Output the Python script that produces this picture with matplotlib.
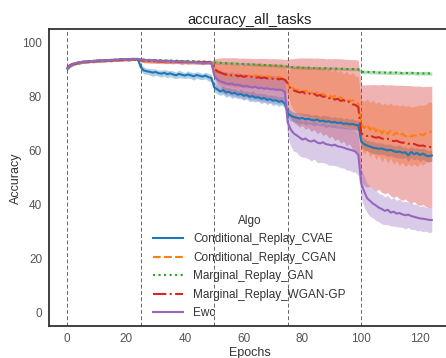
import numpy as np
import matplotlib
matplotlib.use("Agg")
import matplotlib.pyplot as plt

plt.rcParams['font.family'] = ['Liberation Sans', 'DejaVu Sans']

epochs = list(range(125))
task_starts = [0, 25, 50, 75, 100]
labels = ["Conditional_Replay_CVAE", "Conditional_Replay_CGAN", "Marginal_Replay_GAN",
          "Marginal_Replay_WGAN-GP", "Ewc"]

seg1_base = [90.5, 91.5, 92.0, 92.4, 92.7, 92.9, 93.0, 93.1, 93.2, 93.2, 93.3, 93.4, 93.4,
             93.5, 93.6, 93.6, 93.7, 93.7, 93.8, 93.8, 93.9, 93.9, 94.0, 94.0, 94.0]

cvae = seg1_base + [
    91.0, 89.8, 89.5, 89.3, 89.0, 89.2, 88.8, 88.6, 88.9, 88.4, 88.7, 88.3, 88.0, 88.5, 88.2,
    87.9, 88.3, 88.0, 87.6, 88.1, 87.8, 87.5, 87.9, 87.3, 87.0,
    83.5, 82.8, 82.0, 82.5, 81.6, 81.9, 81.2, 81.5, 80.8, 81.1, 80.4, 80.7, 80.0, 80.3, 79.7,
    79.9, 79.3, 79.6, 78.9, 79.2, 78.6, 78.8, 78.2, 78.5, 77.5,
    74.0, 73.0, 72.6, 72.3, 72.0, 72.2, 71.7, 71.9, 71.5, 71.3, 71.6, 71.0, 71.2, 70.8, 71.0,
    70.5, 70.7, 70.3, 70.5, 70.0, 70.2, 69.8, 70.0, 69.6, 69.5,
    63.5, 62.5, 62.0, 61.6, 61.2, 61.0, 60.8, 60.9, 60.5, 60.2, 60.4, 59.9, 59.6, 59.8, 59.3,
    59.5, 58.4, 59.6, 58.8, 59.2, 58.5, 59.0, 58.3, 58.0, 58.3]
cvae_hw = [
    0.8, 0.6, 0.5, 0.5, 0.6, 0.5, 0.5, 0.6, 0.5, 0.5, 0.6, 0.5, 0.5, 0.5, 0.6, 0.5, 0.5, 0.6, 0.5,
    0.5, 0.5, 0.6, 0.5, 0.5, 0.5,
    1.2, 1.3, 1.1, 1.2, 1.4, 1.2, 1.1, 1.3, 1.2, 1.4, 1.1, 1.3, 1.2, 1.4, 1.2, 1.1, 1.3, 1.2, 1.4,
    1.2, 1.3, 1.1, 1.2, 1.4, 1.3,
    1.5, 1.7, 1.4, 1.6, 1.8, 1.5, 1.7, 1.6, 1.4, 1.8, 1.6, 1.5, 1.7, 1.9, 1.6, 1.5, 1.8, 1.6, 1.7,
    1.5, 1.8, 1.6, 1.7, 1.5, 1.6,
    1.8, 2.0, 1.7, 1.9, 2.1, 1.8, 2.0, 1.9, 1.7, 2.1, 1.9, 1.8, 2.0, 2.2, 1.9, 1.8, 2.1, 1.9, 2.0,
    1.8, 2.1, 1.9, 2.0, 1.8, 1.9,
    2.0, 2.2, 1.9, 2.1, 2.3, 2.0, 2.2, 2.1, 1.9, 2.3, 2.1, 2.0, 2.2, 2.4, 2.1, 2.0, 2.3, 2.1, 2.2,
    2.0, 2.3, 2.1, 2.2, 2.0, 2.1]

cgan = [90.8, 91.7, 92.1, 92.5, 92.6, 93.0, 92.9, 93.2, 93.1, 93.3, 93.2, 93.5, 93.3, 93.6, 93.5,
        93.7, 93.6, 93.8, 93.7, 93.9, 93.8, 94.0, 93.9, 94.1, 94.0,
        93.5, 93.3, 93.2, 93.1, 93.0, 93.2, 93.1, 92.9, 93.0, 93.1, 92.9, 92.8, 93.0, 92.9, 92.8,
        92.9, 92.7, 92.8, 92.9, 92.7, 92.8, 92.6, 92.7, 92.8, 92.6,
        90.0, 89.2, 88.6, 88.3, 88.5, 87.9, 88.2, 87.7, 88.0, 87.5, 87.8, 87.4, 87.9, 87.3, 88.0,
        87.6, 87.8, 87.2, 87.6, 87.4, 87.7, 87.1, 87.5, 86.8, 86.7,
        85.0, 83.8, 83.0, 82.5, 82.8, 81.9, 82.3, 81.5, 81.8, 81.0, 81.6, 80.7, 81.2, 80.3, 80.8,
        79.8, 80.4, 79.5, 79.9, 78.8, 79.3, 78.4, 78.8, 77.9, 77.5,
        70.0, 68.5, 69.8, 67.8, 69.2, 67.2, 68.4, 66.5, 67.8, 66.2, 67.5, 65.9, 66.8, 65.6, 66.4,
        65.4, 66.0, 65.3, 65.8, 65.5, 66.2, 65.8, 66.6, 67.0, 67.2]
cgan_hw = [
    0.7, 0.6, 0.5, 0.5, 0.6, 0.5, 0.6, 0.5, 0.5, 0.6, 0.5, 0.5, 0.6, 0.5, 0.5, 0.6, 0.5, 0.5, 0.6,
    0.5, 0.5, 0.6, 0.5, 0.5, 0.5,
    0.6, 0.7, 0.6, 0.7, 0.6, 0.8, 0.7, 0.6, 0.7, 0.8, 0.6, 0.7, 0.6, 0.7, 0.8, 0.6, 0.7, 0.6, 0.7,
    0.6, 0.7, 0.8, 0.6, 0.7, 0.6,
    2.5, 3.2, 3.6, 3.9, 4.1, 3.8, 4.2, 4.0, 4.3, 3.9, 4.4, 4.1, 4.5, 4.0, 4.3, 4.6, 4.2, 4.5, 4.1,
    4.6, 4.3, 4.7, 4.4, 4.8, 4.6,
    4.0, 6.5, 8.0, 8.6, 9.0, 8.8, 9.3, 9.0, 9.5, 9.2, 9.6, 9.3, 9.8, 9.4, 9.9, 9.5, 10.0, 9.6,
    10.1, 9.7, 10.2, 9.8, 10.3, 9.9, 10.0,
    9.0, 9.8, 9.4, 10.2, 9.6, 10.4, 9.8, 10.6, 10.0, 10.8, 10.2, 10.9, 10.4, 11.0, 10.6, 11.2,
    10.7, 11.0, 10.6, 11.3, 10.8, 11.1, 10.7, 11.2, 10.8]

gan = [90.7, 91.6, 92.2, 92.5, 92.8, 92.9, 93.1, 93.2, 93.2, 93.4, 93.3, 93.5, 93.4, 93.6,
       93.6, 93.7, 93.8, 93.7, 93.9, 93.8, 94.0, 93.9, 94.0, 94.1, 94.0,
       93.9, 93.8, 93.8, 93.7, 93.7, 93.6, 93.6, 93.6, 93.5, 93.5, 93.5, 93.4, 93.4, 93.4, 93.3,
       93.3, 93.3, 93.2, 93.2, 93.2, 93.1, 93.1, 93.1, 93.0, 93.0,
       92.8, 92.7, 92.6, 92.6, 92.5, 92.4, 92.4, 92.3, 92.3, 92.2, 92.2, 92.1, 92.1, 92.0, 92.0,
       91.9, 91.9, 91.8, 91.8, 91.7, 91.7, 91.6, 91.6, 91.5, 91.5,
       91.1, 91.0, 91.0, 90.9, 90.9, 90.8, 90.8, 90.8, 90.7, 90.7, 90.7, 90.6, 90.6, 90.6, 90.5,
       90.5, 90.5, 90.4, 90.4, 90.4, 90.3, 90.3, 90.3, 90.2, 90.2,
       89.3, 89.2, 89.3, 89.1, 89.2, 89.1, 89.0, 89.1, 89.0, 88.9, 89.0, 88.9, 89.0, 88.9, 88.8,
       88.9, 88.8, 88.9, 88.8, 88.7, 88.8, 88.7, 88.8, 88.7, 88.6]
gan_hw = [
    0.6, 0.5, 0.4, 0.4, 0.5, 0.4, 0.4, 0.5, 0.4, 0.4, 0.4, 0.5, 0.4, 0.4, 0.4, 0.5, 0.4, 0.4, 0.4,
    0.5, 0.4, 0.4, 0.4, 0.5, 0.4,
    0.4, 0.5, 0.4, 0.4, 0.5, 0.4, 0.4, 0.5, 0.4, 0.4, 0.5, 0.4, 0.4, 0.5, 0.4, 0.4, 0.5, 0.4, 0.4,
    0.5, 0.4, 0.4, 0.5, 0.4, 0.4,
    0.5, 0.6, 0.5, 0.5, 0.6, 0.5, 0.5, 0.6, 0.5, 0.5, 0.6, 0.5, 0.5, 0.6, 0.5, 0.5, 0.6, 0.5, 0.5,
    0.6, 0.5, 0.5, 0.6, 0.5, 0.5,
    0.5, 0.6, 0.5, 0.5, 0.6, 0.5, 0.5, 0.6, 0.5, 0.5, 0.6, 0.5, 0.5, 0.6, 0.5, 0.5, 0.6, 0.5, 0.5,
    0.6, 0.5, 0.5, 0.6, 0.5, 0.5,
    0.6, 0.7, 0.6, 0.6, 0.7, 0.6, 0.6, 0.7, 0.6, 0.6, 0.7, 0.6, 0.6, 0.7, 0.6, 0.6, 0.7, 0.6, 0.6,
    0.7, 0.6, 0.6, 0.7, 0.6, 0.6]

wgan = [90.9, 91.8, 92.3, 92.4, 92.7, 92.8, 93.1, 93.0, 93.3, 93.2, 93.4, 93.3, 93.5, 93.4, 93.6,
        93.5, 93.7, 93.6, 93.8, 93.7, 93.9, 93.8, 94.0, 93.9, 94.0,
        93.6, 93.4, 93.3, 93.3, 93.2, 93.3, 93.2, 93.1, 93.2, 93.1, 93.1, 93.0, 93.1, 93.0, 92.9,
        93.0, 92.9, 92.9, 93.0, 92.8, 92.9, 92.8, 92.8, 92.9, 92.7,
        90.5, 89.5, 89.0, 88.6, 88.2, 88.5, 87.9, 88.3, 87.6, 87.9, 87.4, 87.7, 87.2, 87.5, 87.0,
        87.3, 86.9, 87.2, 86.8, 87.0, 86.7, 86.9, 86.5, 86.7, 86.3,
        85.0, 83.0, 82.4, 82.0, 81.6, 81.9, 81.2, 81.5, 80.8, 81.1, 80.4, 80.7, 80.0, 80.2, 79.5,
        79.8, 79.0, 79.3, 78.5, 78.8, 77.9, 78.2, 77.3, 77.0, 76.2,
        66.5, 65.8, 65.5, 65.8, 65.2, 64.9, 65.1, 64.6, 64.3, 64.5, 63.9, 63.6, 63.8, 63.3, 63.0,
        63.2, 62.7, 62.4, 62.6, 62.1, 61.9, 62.0, 61.6, 61.5, 61.4]
wgan_hw = [
    0.7, 0.6, 0.5, 0.5, 0.6, 0.5, 0.6, 0.5, 0.5, 0.6, 0.5, 0.5, 0.6, 0.5, 0.5, 0.6, 0.5, 0.5, 0.6,
    0.5, 0.5, 0.6, 0.5, 0.5, 0.5,
    0.6, 0.7, 0.6, 0.7, 0.6, 0.8, 0.7, 0.6, 0.7, 0.8, 0.6, 0.7, 0.6, 0.7, 0.8, 0.6, 0.7, 0.6, 0.7,
    0.6, 0.7, 0.8, 0.6, 0.7, 0.6,
    3.5, 4.8, 5.4, 5.9, 6.3, 6.0, 6.6, 6.2, 6.8, 6.4, 7.0, 6.6, 7.1, 6.7, 7.2, 6.9, 7.3, 7.0, 7.4,
    7.1, 7.5, 7.2, 7.6, 7.3, 7.5,
    9.0, 11.0, 11.8, 12.3, 12.8, 12.5, 13.2, 12.9, 13.6, 13.2, 14.0, 13.6, 14.3, 13.9, 14.7,
    14.3, 15.2, 14.8, 15.6, 15.2, 16.0, 15.6, 16.5, 16.8, 17.3,
    18.0, 18.6, 19.0, 18.7, 19.4, 19.6, 19.3, 20.0, 20.2, 19.9, 20.6, 20.8, 20.5, 21.0, 21.3,
    21.0, 21.5, 21.7, 21.4, 21.9, 22.1, 21.8, 22.3, 22.4, 22.5]

ewc = [90.6, 91.6, 92.1, 92.6, 92.7, 93.0, 93.0, 93.2, 93.3, 93.2, 93.4, 93.4, 93.5, 93.5, 93.7,
       93.6, 93.8, 93.7, 93.9, 93.9, 94.0, 93.9, 94.1, 94.0, 94.1,
       93.8, 93.7, 93.6, 93.5, 93.6, 93.4, 93.3, 93.4, 93.2, 93.3, 93.1, 93.2, 93.0, 93.1, 93.0,
       92.9, 93.0, 92.8, 92.9, 92.7, 92.8, 92.7, 92.6, 92.7, 92.6,
       88.0, 86.5, 85.8, 85.4, 85.0, 84.8, 84.9, 84.4, 84.6, 84.2, 83.9, 84.1, 83.7, 83.5, 83.8,
       83.2, 83.4, 83.0, 83.2, 82.8, 82.9, 82.6, 82.7, 82.5, 81.8,
       70.5, 68.0, 66.5, 65.8, 65.0, 64.2, 64.6, 63.8, 63.5, 63.9, 63.1, 62.8, 63.2, 62.5, 62.3,
       62.0, 62.3, 61.7, 61.5, 61.2, 60.8, 60.5, 60.2, 59.8, 58.5,
       48.0, 45.0, 42.5, 41.5, 40.5, 39.8, 39.0, 38.5, 37.8, 38.2, 37.2, 37.5, 36.8, 37.0, 36.5,
       36.2, 36.4, 35.9, 35.6, 35.3, 35.0, 34.9, 34.7, 34.5, 34.4]
ewc_hw = [
    0.7, 0.6, 0.5, 0.5, 0.6, 0.5, 0.6, 0.5, 0.5, 0.6, 0.5, 0.5, 0.6, 0.5, 0.5, 0.6, 0.5, 0.5, 0.6,
    0.5, 0.5, 0.6, 0.5, 0.5, 0.5,
    0.6, 0.7, 0.6, 0.7, 0.6, 0.8, 0.7, 0.6, 0.7, 0.8, 0.6, 0.7, 0.6, 0.7, 0.8, 0.6, 0.7, 0.6, 0.7,
    0.6, 0.7, 0.8, 0.6, 0.7, 0.6,
    3.0, 3.8, 4.2, 4.0, 4.4, 4.1, 4.5, 4.2, 4.6, 4.3, 4.7, 4.4, 4.8, 4.5, 4.9, 4.6, 5.0, 4.7, 5.1,
    4.8, 5.2, 4.9, 5.3, 5.0, 5.2,
    5.5, 6.2, 6.6, 6.3, 6.8, 6.5, 7.0, 6.7, 7.2, 6.9, 7.4, 7.1, 7.5, 7.2, 7.6, 7.3, 7.7, 7.4, 7.8,
    7.5, 7.9, 7.6, 8.0, 7.7, 7.6,
    5.5, 5.8, 5.4, 5.7, 5.3, 5.6, 5.2, 5.5, 5.1, 5.4, 5.0, 5.3, 4.9, 5.2, 4.8, 5.1, 4.7, 5.0, 4.6,
    4.9, 4.5, 4.8, 4.4, 4.7, 4.5]

series = [cvae, cgan, gan, wgan, ewc]
halfwidths = [cvae_hw, cgan_hw, gan_hw, wgan_hw, ewc_hw]
colors = ["#1f77b4", "#ff7f0e", "#2ca02c", "#d62728", "#9467bd"]
styles = ["-", "--", ":", "-.", "-"]

fig = plt.figure(figsize=(4.46, 3.58), dpi=100)
ax = fig.add_axes([0.110, 0.088, 0.899, 0.830])

x = np.array(epochs)
for y, hw, c, ls, lab in zip(series, halfwidths, colors, styles, labels):
    y = np.array(y)
    hw = np.array(hw)
    ax.fill_between(x, y - hw, y + hw, color=c, alpha=0.35, linewidth=0)
    ax.plot(x, y, color=c, linestyle=ls, linewidth=1.5, label=lab)

for t in task_starts:
    ax.axvline(t, color="#666666", linestyle=(0, (4, 2.5)), linewidth=0.7, zorder=0.5)

ax.set_xlim(-6.2, 130.2)
ax.set_ylim(-5, 105)
ax.set_xticks([0, 20, 40, 60, 80, 100, 120])
ax.set_yticks([0, 20, 40, 60, 80, 100])
ax.tick_params(length=0, labelsize=8.5, colors="#555555", pad=5)
for s in ax.spines.values():
    s.set_color("#333333")
    s.set_linewidth(1.3)
ax.set_xlabel("Epochs", fontsize=9, color="#333333", labelpad=1)
ax.set_ylabel("Accuracy", fontsize=9, color="#333333", labelpad=0)
ax.set_title("accuracy_all_tasks", fontsize=10.5, color="#222222", pad=4)

leg = ax.legend(title="Algo", loc="lower center", frameon=False, fontsize=8.5,
                title_fontsize=8.5, handlelength=2.5, labelspacing=0.55,
                borderaxespad=0.2, handletextpad=0.9)
for t in leg.get_texts():
    t.set_color("#333333")
leg.get_title().set_color("#333333")

fig.savefig("out.png", dpi=100)
